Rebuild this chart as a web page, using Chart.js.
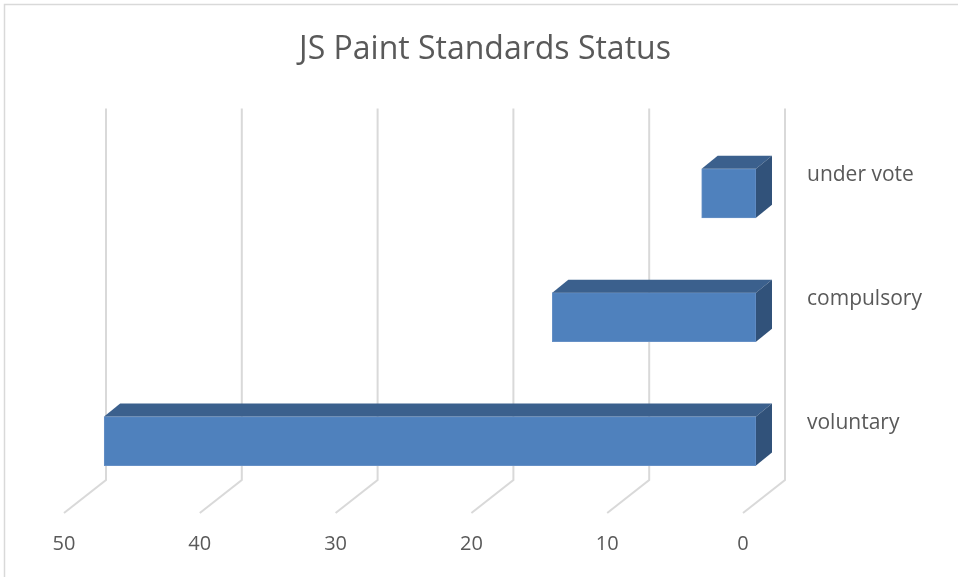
<!DOCTYPE html>
<html>
<head>
<meta charset="utf-8">
<script src="https://cdn.jsdelivr.net/npm/chart.js@4.4.1/dist/chart.umd.min.js"></script>
<style>
  html, body { margin: 0; padding: 0; background: #fff; }
</style>
</head>
<body>
<canvas id="chart" width="958" height="577"></canvas>
<script>
// Data
const categories = ['voluntary', 'compulsory', 'under vote'];
const standardCounts = [48, 15, 4];
const axisMin = 0;
const axisMax = 50;
const axisStep = 10;

// 3D look (pixels, relative to the front face of the bars)
const barDepth = { dx: 16, dy: -13 };
const wallShift = { dx: 29, dy: -23 };
const floorShift = { dx: -13, dy: 10 };

const textColor = '#595959';
const gridColor = '#d9d9d9';

const pseudo3d = {
    id: 'pseudo3d',
    beforeDraw(chart) {
        const ctx = chart.ctx;
        ctx.save();
        ctx.fillStyle = '#fff';
        ctx.fillRect(0, 0, chart.width, chart.height);
        ctx.strokeStyle = gridColor;
        ctx.lineWidth = 1.5;
        ctx.strokeRect(4.5, 4.5, chart.width + 10, chart.height + 10);
        ctx.restore();
    },
    // Gitterlinjer: bagvæg + gulv
    beforeDatasetsDraw(chart) {
        const ctx = chart.ctx;
        const x = chart.scales.x;
        const area = chart.chartArea;
        ctx.save();
        ctx.strokeStyle = gridColor;
        ctx.lineWidth = 2;
        x.ticks.forEach(t => {
            const px = x.getPixelForValue(t.value);
            ctx.beginPath();
            ctx.moveTo(px + wallShift.dx, area.top + wallShift.dy);
            ctx.lineTo(px + wallShift.dx, area.bottom + wallShift.dy);
            ctx.lineTo(px + floorShift.dx, area.bottom + floorShift.dy);
            ctx.stroke();
        });
        ctx.restore();
    },
    // Top og side på hver bar
    afterDatasetsDraw(chart) {
        const ctx = chart.ctx;
        const meta = chart.getDatasetMeta(0);
        ctx.save();
        meta.data.forEach(bar => {
            const p = bar.getProps(['x', 'y', 'base', 'height'], true);
            const left = Math.min(p.x, p.base);
            const right = Math.max(p.x, p.base);
            const top = p.y - p.height / 2;
            const bottom = p.y + p.height / 2;

            ctx.fillStyle = '#3b608d';
            ctx.beginPath();
            ctx.moveTo(left, top);
            ctx.lineTo(left + barDepth.dx, top + barDepth.dy);
            ctx.lineTo(right + barDepth.dx, top + barDepth.dy);
            ctx.lineTo(right, top);
            ctx.closePath();
            ctx.fill();

            ctx.fillStyle = '#31527a';
            ctx.beginPath();
            ctx.moveTo(right, top);
            ctx.lineTo(right + barDepth.dx, top + barDepth.dy);
            ctx.lineTo(right + barDepth.dx, bottom + barDepth.dy);
            ctx.lineTo(right, bottom);
            ctx.closePath();
            ctx.fill();
        });
        ctx.restore();
    }
};

const ctx = document.getElementById('chart').getContext('2d');
new Chart(ctx, {
    type: 'bar',
    data: {
        labels: categories,
        datasets: [{
            data: standardCounts,
            backgroundColor: '#4f81bd',
            borderColor: '#6690c6',
            borderWidth: 1,
            borderSkipped: false,
            barThickness: 49
        }]
    },
    plugins: [pseudo3d],
    options: {
        indexAxis: 'y',
        responsive: false,
        animation: false,
        layout: { padding: { left: 12, top: 0, right: 0, bottom: 0 } },
        plugins: {
            legend: { display: false },
            tooltip: { enabled: false },
            title: {
                display: true,
                text: 'JS Paint Standards Status',
                color: textColor,
                font: { family: 'Open Sans', size: 32, weight: 'normal' },
                padding: { top: 31, bottom: 62 }
            }
        },
        scales: {
            x: {
                reverse: true,
                min: axisMin,
                max: axisMax,
                grid: { display: false, drawTicks: false },
                border: { display: false },
                ticks: {
                    stepSize: axisStep,
                    color: textColor,
                    font: { family: 'Open Sans', size: 20 },
                    padding: 29,
                    labelOffset: -13,
                    maxRotation: 0
                },
                afterFit: s => { s.height = 74; }
            },
            y: {
                position: 'right',
                reverse: true,
                grid: { display: false, drawTicks: false },
                border: { display: false },
                ticks: {
                    color: textColor,
                    font: { family: 'Open Sans', size: 21 },
                    padding: 51,
                    labelOffset: -18
                },
                afterFit: s => { s.width = 202; }
            },
            // empty left axis, only there to leave room left of the plot
            spacer: {
                type: 'linear',
                position: 'left',
                axis: 'y',
                grid: { display: false, drawTicks: false },
                border: { display: false },
                ticks: { display: false },
                afterFit: s => { s.width = 65; }
            }
        }
    }
});
</script>
</body>
</html>
